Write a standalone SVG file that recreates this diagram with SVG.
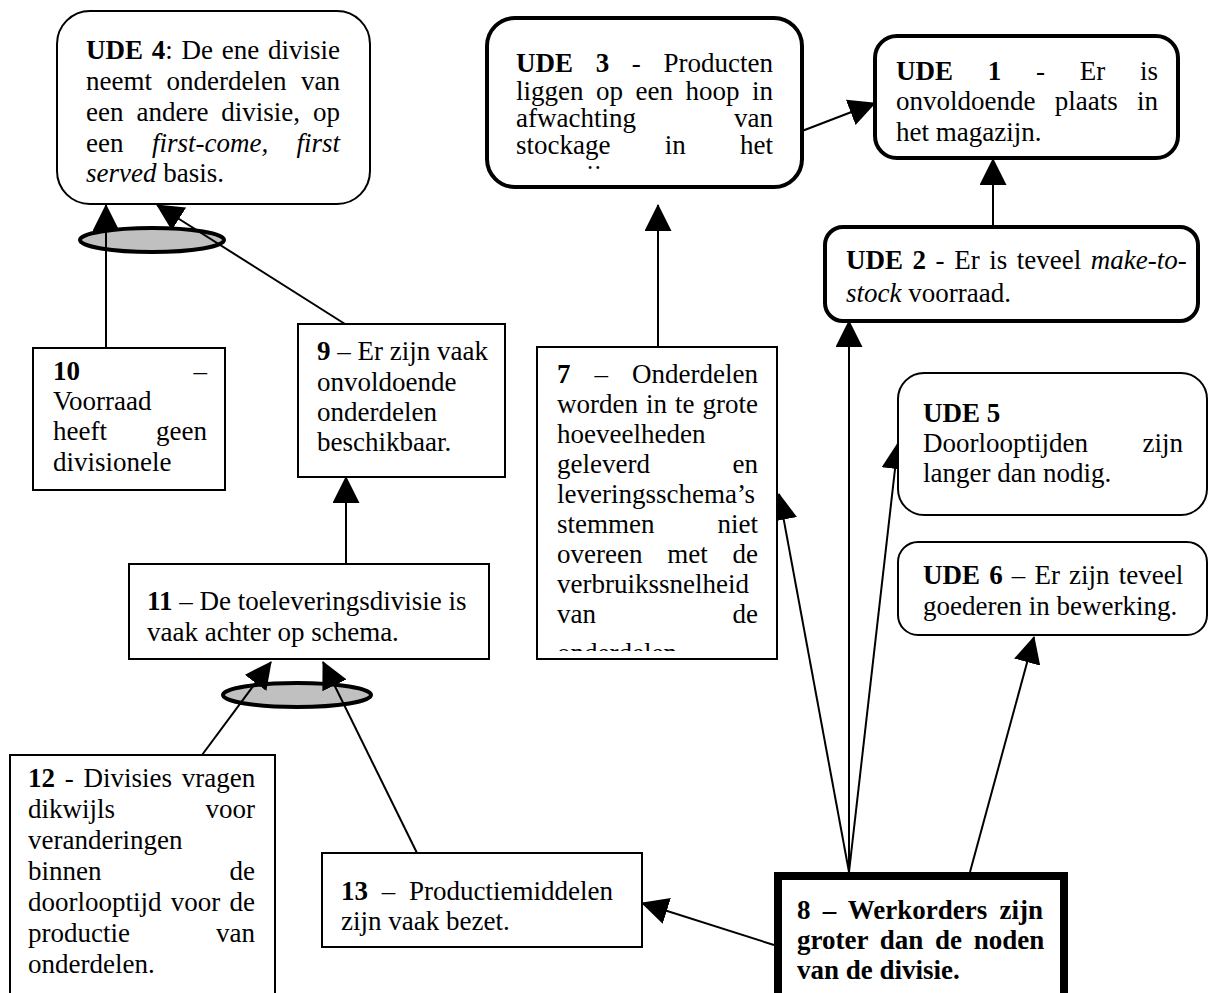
<svg xmlns="http://www.w3.org/2000/svg" width="1209" height="993" viewBox="0 0 1209 993">
  <defs>
    <style>
      text { font-family: "Liberation Serif", "Times New Roman", serif; font-size: 27px; fill: #000; }
      .b { font-weight: bold; }
      .i { font-style: italic; }
      .thin { fill: #fff; stroke: #000; stroke-width: 2; }
      .thick { fill: #fff; stroke: #000; stroke-width: 4; }
      .box { fill: #fff; stroke: #000; stroke-width: 2; }
      .core { fill: #fff; stroke: #000; stroke-width: 8; }
      .edge { fill: none; stroke: #000; stroke-width: 2; marker-end: url(#ah); }
      .and { fill: #c0c0c0; stroke: #000; stroke-width: 4; }
    </style>
    <marker id="ah" markerUnits="userSpaceOnUse" markerWidth="27" markerHeight="27" viewBox="0 0 27 27" refX="26" refY="13.5" orient="auto">
      <path d="M0,0 L27,13.5 L0,27 z" fill="#000"/>
    </marker>
    <clipPath id="clip-ude3"><rect x="490" y="20" width="310" height="150"/></clipPath>
    <clipPath id="clip-n7"><rect x="540" y="350" width="235" height="301"/></clipPath>
  </defs>

  <rect x="0" y="0" width="1209" height="993" fill="#fff"/>

  <!-- connectors (AND ellipses first, arrows over them) -->
  <g id="connectors">
    <ellipse class="and" cx="152" cy="240" rx="72" ry="12"/>
    <ellipse class="and" cx="297" cy="695" rx="74" ry="12"/>
    <line class="edge" x1="106" y1="348" x2="106" y2="205"/>
    <line class="edge" x1="345" y1="324" x2="157" y2="205"/>
    <line class="edge" x1="346" y1="564" x2="346" y2="477"/>
    <line class="edge" x1="202" y1="755" x2="271" y2="662"/>
    <line class="edge" x1="417" y1="853" x2="323" y2="662"/>
    <line class="edge" x1="658" y1="347" x2="658" y2="205"/>
    <line class="edge" x1="802" y1="131" x2="875" y2="103"/>
    <line class="edge" x1="993" y1="227" x2="993" y2="159"/>
    <line class="edge" x1="849" y1="872" x2="849" y2="321"/>
    <line class="edge" x1="849" y1="872" x2="779" y2="494"/>
    <line class="edge" x1="849" y1="872" x2="898" y2="443"/>
    <line class="edge" x1="970" y1="872" x2="1034" y2="637"/>
    <line class="edge" x1="774" y1="945" x2="642" y2="903"/>
  </g>

  <!-- UDE 4 -->
  <g id="ude4">
    <rect class="thin" x="57" y="11" width="313" height="193" rx="33"/>
    <text x="86" y="59" word-spacing="2"><tspan class="b">UDE 4</tspan>: De ene divisie</text>
    <text x="86" y="90" word-spacing="7.8">neemt onderdelen van</text>
    <text x="86" y="121" word-spacing="6.2">een andere divisie, op</text>
    <text x="86" y="152">een</text>
    <text x="152" y="152" class="i">first-come,</text>
    <text x="340" y="152" class="i" text-anchor="end">first</text>
    <text x="86" y="182"><tspan class="i">served</tspan> basis.</text>
  </g>

  <!-- UDE 3 -->
  <g id="ude3">
    <rect class="thick" x="487" y="18" width="315" height="169" rx="28"/>
    <g clip-path="url(#clip-ude3)">
      <text x="516" y="72" word-spacing="15.9"><tspan class="b">UDE 3</tspan> - Producten</text>
      <text x="516" y="100" word-spacing="5.75">liggen op een hoop in</text>
      <text x="516" y="127">afwachting</text>
      <text x="773" y="127" text-anchor="end">van</text>
      <text x="516" y="154" word-spacing="47.5">stockage in het</text>
      <text x="516" y="184">magazijn.</text>
    </g>
  </g>

  <!-- UDE 1 -->
  <g id="ude1">
    <rect class="thick" x="875" y="36" width="303" height="122" rx="22"/>
    <text x="896" y="80" word-spacing="28"><tspan class="b">UDE 1</tspan> - Er is</text>
    <text x="896" y="110" word-spacing="12.5">onvoldoende plaats in</text>
    <text x="896" y="141">het magazijn.</text>
  </g>

  <!-- UDE 2 -->
  <g id="ude2">
    <rect class="thick" x="825" y="227" width="373" height="94" rx="18"/>
    <text x="846" y="269" word-spacing="2.8"><tspan class="b">UDE 2</tspan> - Er is teveel <tspan class="i">make-to-</tspan></text>
    <text x="846" y="302"><tspan class="i">stock</tspan> voorraad.</text>
  </g>

  <!-- UDE 5 -->
  <g id="ude5">
    <rect class="thin" x="898" y="373" width="309" height="142" rx="26"/>
    <text x="923" y="422" class="b">UDE 5</text>
    <text x="923" y="452">Doorlooptijden</text>
    <text x="1183" y="452" text-anchor="end">zijn</text>
    <text x="923" y="482">langer dan nodig.</text>
  </g>

  <!-- UDE 6 -->
  <g id="ude6">
    <rect class="thin" x="898" y="542" width="309" height="93" rx="20"/>
    <text x="923" y="584" word-spacing="2.4"><tspan class="b">UDE 6</tspan> – Er zijn teveel</text>
    <text x="923" y="615">goederen in bewerking.</text>
  </g>

  <!-- 10 -->
  <g id="n10">
    <rect class="box" x="33" y="348" width="192" height="142"/>
    <text x="53" y="380" class="b">10</text>
    <text x="207" y="380" text-anchor="end">–</text>
    <text x="53" y="410">Voorraad</text>
    <text x="53" y="440">heeft</text>
    <text x="207" y="440" text-anchor="end">geen</text>
    <text x="53" y="471">divisionele</text>
  </g>

  <!-- 9 -->
  <g id="n9">
    <rect class="box" x="298" y="324" width="207" height="153"/>
    <text x="317" y="360"><tspan class="b">9</tspan> – Er zijn vaak</text>
    <text x="317" y="391">onvoldoende</text>
    <text x="317" y="421">onderdelen</text>
    <text x="317" y="451">beschikbaar.</text>
  </g>

  <!-- 7 -->
  <g id="n7">
    <rect class="box" x="537" y="347" width="240" height="312"/>
    <g clip-path="url(#clip-n7)">
      <text x="557" y="383" word-spacing="17.3"><tspan class="b">7</tspan> – Onderdelen</text>
      <text x="557" y="413" word-spacing="1.3">worden in te grote</text>
      <text x="557" y="443">hoeveelheden</text>
      <text x="557" y="473">geleverd</text>
      <text x="758" y="473" text-anchor="end">en</text>
      <text x="557" y="503">leveringsschema’s</text>
      <text x="557" y="533">stemmen</text>
      <text x="758" y="533" text-anchor="end">niet</text>
      <text x="557" y="563" word-spacing="18">overeen met de</text>
      <text x="557" y="593">verbruikssnelheid</text>
      <text x="557" y="623">van</text>
      <text x="758" y="623" text-anchor="end">de</text>
      <text x="557" y="662">onderdelen.</text>
    </g>
  </g>

  <!-- 11 -->
  <g id="n11">
    <rect class="box" x="129" y="564" width="360" height="95"/>
    <text x="147" y="610"><tspan class="b">11</tspan> – De toeleveringsdivisie is</text>
    <text x="147" y="641">vaak achter op schema.</text>
  </g>

  <!-- 12 -->
  <g id="n12">
    <rect class="box" x="10" y="755" width="265" height="260"/>
    <text x="28" y="787" word-spacing="3"><tspan class="b">12</tspan> - Divisies vragen</text>
    <text x="28" y="818">dikwijls</text>
    <text x="255" y="818" text-anchor="end">voor</text>
    <text x="28" y="849">veranderingen</text>
    <text x="28" y="880">binnen</text>
    <text x="255" y="880" text-anchor="end">de</text>
    <text x="28" y="911" word-spacing="2.5">doorlooptijd voor de</text>
    <text x="28" y="942">productie</text>
    <text x="255" y="942" text-anchor="end">van</text>
    <text x="28" y="973">onderdelen.</text>
  </g>

  <!-- 13 -->
  <g id="n13">
    <rect class="box" x="322" y="853" width="320" height="94"/>
    <text x="341" y="900" word-spacing="7"><tspan class="b">13</tspan> – Productiemiddelen</text>
    <text x="341" y="930">zijn vaak bezet.</text>
  </g>

  <!-- 8 -->
  <g id="n8">
    <rect class="core" x="778" y="876" width="286" height="140"/>
    <text x="797" y="919" class="b" word-spacing="5.4">8 – Werkorders zijn</text>
    <text x="797" y="949" class="b" word-spacing="5">groter dan de noden</text>
    <text x="797" y="979" class="b">van de divisie.</text>
  </g>
</svg>
